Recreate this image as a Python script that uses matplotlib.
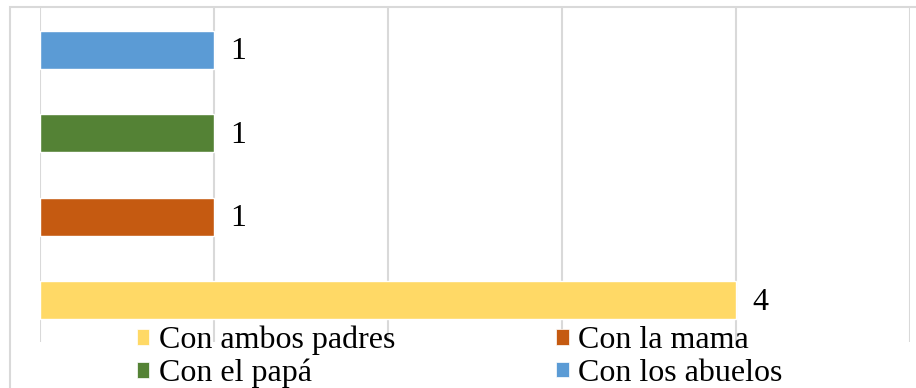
import matplotlib
matplotlib.use("Agg")
import matplotlib.pyplot as plt
from matplotlib.patches import Rectangle, Patch

# Data (bottom to top)
categories = ["Con ambos padres", "Con la mama", "Con el papá", "Con los abuelos"]
values = [4, 1, 1, 1]
colors = ["#FFD966", "#C55A11", "#548235", "#5B9BD5"]
x_ticks = [0, 1, 2, 3, 4, 5]

plt.rcParams["font.family"] = ["Liberation Serif", "DejaVu Serif"]

W, H = 916, 388
fig = plt.figure(figsize=(W / 100, H / 100), dpi=100)

# chart frame
fig.patches.append(Rectangle((10 / W, -0.1), 1.2, 1.1 - 7.5 / H,
                             transform=fig.transFigure, fill=False,
                             edgecolor="#D9D9D9", linewidth=1.5, zorder=0))

ax = fig.add_axes([40 / W, 1 - 342 / H, 870 / W, 334 / H])
ax.set_facecolor("none")

pos = list(range(len(categories)))
ax.barh(pos, values, height=0.45, color=colors, edgecolor="white", linewidth=1, zorder=3)

for p, v in zip(pos, values):
    ax.annotate(str(v), xy=(v, p), xytext=(12, -1.5), textcoords="offset points",
                va="center", ha="left", fontsize=23, color="#000000")

ax.set_xlim(x_ticks[0], x_ticks[-1])
ax.set_ylim(-0.5, len(categories) - 0.5)
ax.set_xticks(x_ticks)
ax.xaxis.grid(True, color="#D9D9D9", linewidth=1.5, zorder=0)
ax.tick_params(left=False, bottom=False, labelleft=False, labelbottom=False)
for s in ax.spines.values():
    s.set_visible(False)

# legend (row-major order: ambos, mama / papá, abuelos)
order = [0, 2, 1, 3]
handles = [Patch(facecolor=colors[i], edgecolor="white", linewidth=0.5) for i in order]
labels = [categories[i] for i in order]
leg = fig.legend(handles, labels, ncol=2, loc="center left",
                 bbox_to_anchor=(137 / W, 1 - 357 / H),
                 frameon=False, fontsize=23, handlelength=0.38, handleheight=0.38,
                 handletextpad=0.3, labelspacing=0.12, columnspacing=5.05,
                 borderpad=0, borderaxespad=0)

fig.savefig("out.png", dpi=100)
